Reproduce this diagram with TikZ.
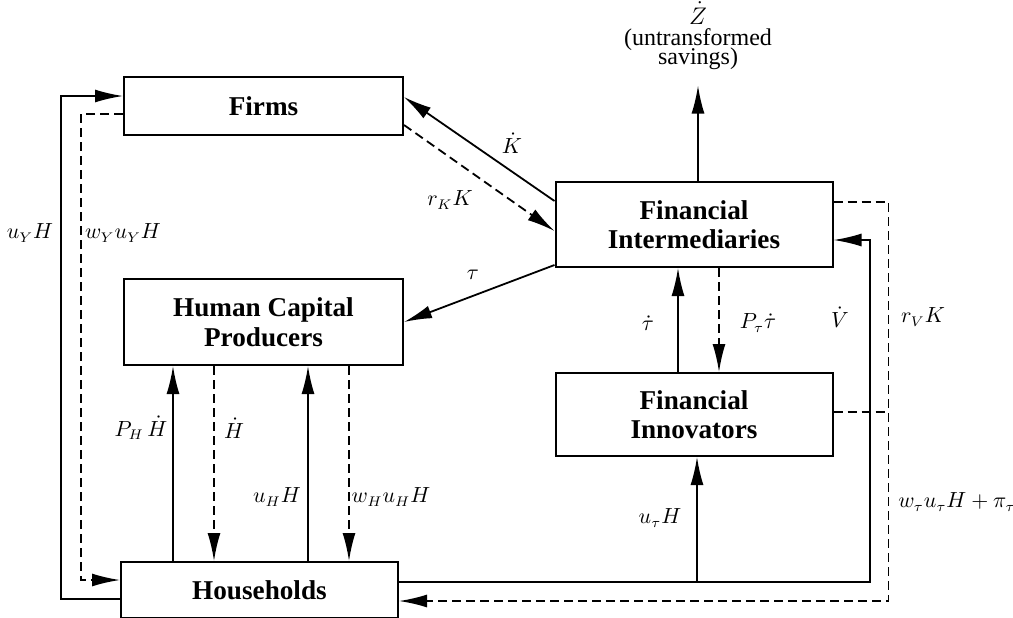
\documentclass[tikz,border=0pt]{standalone}
\usepackage{fontspec}
\setmainfont{Liberation Serif}
\usetikzlibrary{arrows.meta}
\begin{document}
\begin{tikzpicture}[x=0.5pt,y=-0.5pt,
  box/.style={draw, line width=1pt, inner sep=0pt, font={\fontsize{13.6}{14.8}\selectfont\bfseries}, align=center},
  flow/.style={line width=0.9pt},
  arr/.style={flow, -{Latex[length=14pt,width=6.5pt]}},
  dflow/.style={flow, dash pattern=on 4.5pt off 2.5pt},
  darr/.style={dflow, -{Latex[length=14pt,width=6.5pt]}},
  lbl/.style={font={\fontsize{10.5}{12}\selectfont}, inner sep=0pt},
  ztext/.style={font={\fontsize{12}{14}\selectfont}, inner sep=0pt, anchor=base}]
\useasboundingbox (0,0) rectangle (1013,617);

% boxes
\node[box, minimum width=139.5pt, minimum height=29pt] (firms) at (263.5,106) {Firms};
\node[box, minimum width=138.5pt, minimum height=42.5pt] (fi) at (694,224.5) {Financial\\Intermediaries};
\node[box, minimum width=139.5pt, minimum height=43pt] (hcp) at (263.5,322) {Human Capital\\Producers};
\node[box, minimum width=138.5pt, minimum height=41.5pt] (finn) at (694,414.5) {Financial\\Innovators};
\node[box, minimum width=138.5pt, minimum height=28pt] (hh) at (259.5,590) {Households};

% untransformed savings
\node[ztext] (zlab1) at (698,24) {$\dot Z$};
\node[ztext] (zlab2) at (698,45) {(untransformed};
\node[ztext] (zlab3) at (698,64) {savings)};
\draw[arr] (fi.north -| zlab3.south) -- ([yshift=-8pt]zlab3.south);

% left loop
\draw[arr] ([yshift=-4.5pt]hh.west) -- ++(-59,0) |- ([yshift=5pt]firms.west);
\draw[darr] ([yshift=-4pt]firms.west) -- ++(-42,0) |- ([yshift=5pt]hh.west);

% firms <-> FI
\draw[arr] ([yshift=11.75pt]fi.west) -- ([yshift=4.5pt]firms.east);
\draw[darr] ([yshift=-9.5pt]firms.east) -- ([yshift=-3.25pt]fi.west);

% FI -> HCP
\draw[arr] ([yshift=1.5pt]fi.south west) -- (hcp.east);

% HCP <-> households
\coordinate (xPH) at ([xshift=-45.25pt]hcp.south);
\coordinate (xHd) at ([xshift=-24.75pt]hcp.south);
\coordinate (xuH) at ([xshift=22.25pt]hcp.south);
\coordinate (xwH) at ([xshift=42.75pt]hcp.south);
\draw[arr] (xPH |- hh.north) -- (xPH);
\draw[darr] (xHd) -- (xHd |- hh.north);
\draw[arr] (xuH |- hh.north) -- (xuH);
\draw[darr] (xwH) -- (xwH |- hh.north);

% FI <-> innovators
\coordinate (xtd) at ([xshift=-8pt]finn.north);
\coordinate (xpt) at ([xshift=12.5pt]fi.south);
\draw[arr] (xtd) -- (xtd |- fi.south);
\draw[darr] (xpt) -- (xpt |- finn.north);

% right side
\coordinate (hhout) at ([yshift=4pt]hh.east);
\coordinate (xut) at ([xshift=1.5pt]finn.south);
\draw[arr] (hhout) -- ++(471,0) |- ([yshift=-7.75pt]fi.east);
\draw[arr] (xut |- hhout) -- (xut);
\draw[darr] ([yshift=11.25pt]fi.east) -- ++(55,0) |- ([yshift=-5.5pt]hh.east);
\draw[dflow] ([yshift=1.25pt]finn.east) -- ++(55,0);

% labels
\node[lbl] (lUY) at (30,233) {$u_Y H$};
\node[lbl] (lWY) at (123,233) {$w_Y u_Y H$};
\node[lbl] (lK) at (512,143) {$\dot K$};
\node[lbl] (lrK) at (450,200) {$r_K K$};
\node[lbl] (ltau) at (473,275) {$\tau$};
\node[lbl] (ltd) at (648,323) {$\dot\tau$};
\node[lbl] (lPt) at (758,323) {$P_\tau\dot\tau$};
\node[lbl] (lV) at (840,317) {$\dot V$};
\node[lbl] (lrV) at (923,317) {$r_V K$};
\node[lbl] (lPH) at (141,428) {$P_H\,\dot H$};
\node[lbl] (lHd) at (234,428) {$\dot H$};
\node[lbl] (luH) at (277,497) {$u_H H$};
\node[lbl] (lwH) at (391,497) {$w_H u_H H$};
\node[lbl] (lut) at (660,518) {$u_\tau H$};
\node[lbl] (lwt) at (957,502) {$w_\tau u_\tau H+\pi_\tau$};
\end{tikzpicture}
\end{document}
